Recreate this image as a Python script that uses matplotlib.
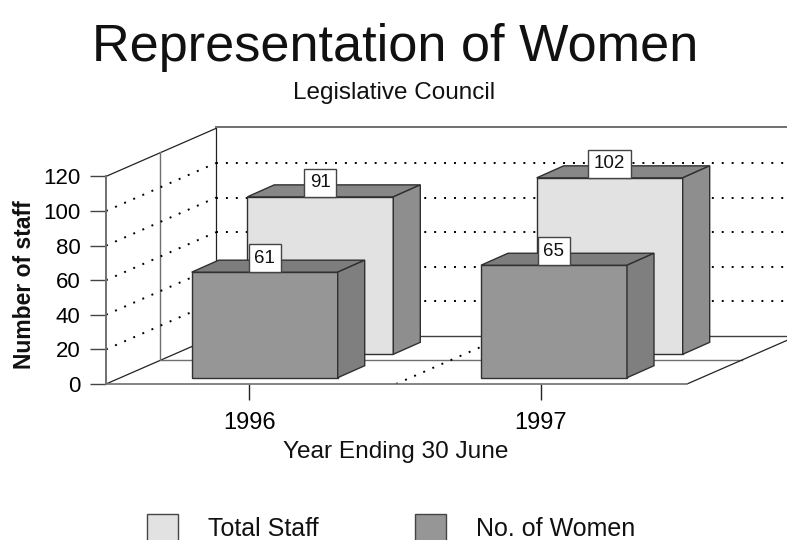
import matplotlib
matplotlib.use('Agg')
import matplotlib.pyplot as plt
from matplotlib.patches import Polygon, Patch

plt.rcParams['font.family'] = ['Liberation Sans', 'DejaVu Sans']

years = ['1996', '1997']
total_staff = [91, 102]
women = [61, 65]
y_ticks = [0, 20, 40, 60, 80, 100, 120]
grid_values = [20, 40, 60, 80, 100]
title = 'Representation of Women'
subtitle = 'Legislative Council'

# pixel geometry of the fake 3d box, x axis of the axes is in pixels
W, H = 787, 540
PX = 1.73            # pixels per staff member
x0, y0 = 106, 384    # front left corner of floor
top_px = 126.7
DX, DY = 110, 48 / PX    # depth of the whole box
dx, dy = 27, 12 / PX     # depth of one bar
tick_x = [249.3, 541]
total_left = [247.3, 536.7]
women_left = [191.7, 481]
bar_w = 146
total_base = (384 - 354.3) / PX
women_base = (384 - 377.7) / PX

light, light_top, light_side = '#e2e2e2', '#878787', '#8e8e8e'
dark, dark_top, dark_side = '#969696', '#7d7d7d', '#7f7f7f'
edge = '#303030'
wall = '#707070'

fig = plt.figure(figsize=(W / 100, H / 100), dpi=100)
ax = fig.add_axes([x0 / W, (H - y0) / H, (W - x0) / W, (y0 - top_px) / H])
ax.set_xlim(x0, W)
ax.set_ylim(0, (y0 - top_px) / PX)
ax.patch.set_visible(False)

# walls and floor
ax.plot([x0, x0 + DX], [120, 120 + DY], color='#222222', lw=0.9, clip_on=False)
ax.plot([x0, x0 + DX], [0, DY], color='#222222', lw=0.9)
ax.plot([x0 + DX / 2 - 1] * 2, [DY / 2, 120 + DY / 2], color=wall, lw=1)
ax.plot([x0 + DX] * 2, [DY, 120 + DY + 1], color='#222222', lw=0.9, clip_on=False)
ax.plot([x0 + DX, W], [120 + DY + 0.6] * 2, color=wall, lw=1.4, clip_on=False)
ax.plot([x0 + DX, W], [DY, DY], color='#404040', lw=1)
ax.plot([x0 + DX / 2, 687 + DX / 2], [DY / 2, DY / 2], color=wall, lw=1)
ax.plot([687, 687 + DX], [0, DY], color='#222222', lw=0.9)

# dotted grid
dots = dict(color='black', lw=1.4, linestyle=(0, (1, 4.1)), dash_capstyle='butt')
for v in grid_values:
    ax.plot([x0, x0 + DX], [v, v + DY], **dots)
    ax.plot([x0 + DX, W], [v + DY, v + DY], **dots)
ax.plot([396, 396 + DX], [0, DY], **dots)


def draw_bars(lefts, values, base, face, top, side):
    for left, v in zip(lefts, values):
        h = base + v
        ax.bar(left, v, width=bar_w, bottom=base, align='edge', color=face,
               edgecolor=edge, linewidth=1, zorder=3)
        right = left + bar_w
        ax.add_patch(Polygon([(left, h), (left + dx, h + dy), (right + dx, h + dy), (right, h)],
                             facecolor=top, edgecolor=edge, linewidth=1, zorder=3))
        ax.add_patch(Polygon([(right, base), (right + dx, base + dy), (right + dx, h + dy), (right, h)],
                             facecolor=side, edgecolor=edge, linewidth=1, zorder=3))
        ax.text(left + bar_w / 2, h + 14 / PX, str(v), ha='center', va='center', fontsize=13.5,
                color='#111111', zorder=4,
                bbox=dict(boxstyle='square,pad=0.3', facecolor='white', edgecolor='#444444', linewidth=1))


draw_bars(total_left, total_staff, total_base, light, light_top, light_side)
draw_bars(women_left, women, women_base, dark, dark_top, dark_side)

# axes
for s in ['top', 'right']:
    ax.spines[s].set_visible(False)
ax.spines['left'].set_bounds(0, 120)
ax.spines['left'].set_color(wall)
ax.spines['left'].set_linewidth(1.4)
ax.spines['bottom'].set_bounds(x0, 687)
ax.spines['bottom'].set_color(wall)
ax.spines['bottom'].set_linewidth(1.2)
ax.set_yticks(y_ticks)
ax.set_xticks(tick_x)
ax.set_xticklabels(years)
ax.tick_params(axis='y', length=11.5, width=1, color='#444444', labelsize=16, pad=7)
ax.tick_params(axis='x', length=11.5, width=1, color='#222222', labelsize=17, pad=9)

fig.text(395 / W, 1 - 47 / H, title, ha='center', va='center', fontsize=37.6, color='#111111')
fig.text(394.5 / W, 1 - 93 / H, subtitle, ha='center', va='center', fontsize=17.5, color='#111111')
fig.text(396 / W, 1 - 452 / H, 'Year Ending 30 June', ha='center', va='center', fontsize=17.6, color='#111111')
fig.text(25 / W, 1 - 285 / H, 'Number of staff', rotation=90, ha='center', va='center',
         fontsize=16.5, fontweight='bold', color='#111111')

handles = [Patch(facecolor=light, edgecolor='#444444', label='Total Staff'),
           Patch(facecolor=dark, edgecolor='#444444', label='No. of Women')]
fig.legend(handles=handles, ncol=2, loc='lower left', bbox_to_anchor=(147 / W, -1 / H),
           frameon=False, fontsize=18, borderpad=0, borderaxespad=0, handlelength=1.24,
           handleheight=1.25, handletextpad=1.2, columnspacing=3.85, labelcolor='#111111')

fig.savefig('out.png', dpi=100)
